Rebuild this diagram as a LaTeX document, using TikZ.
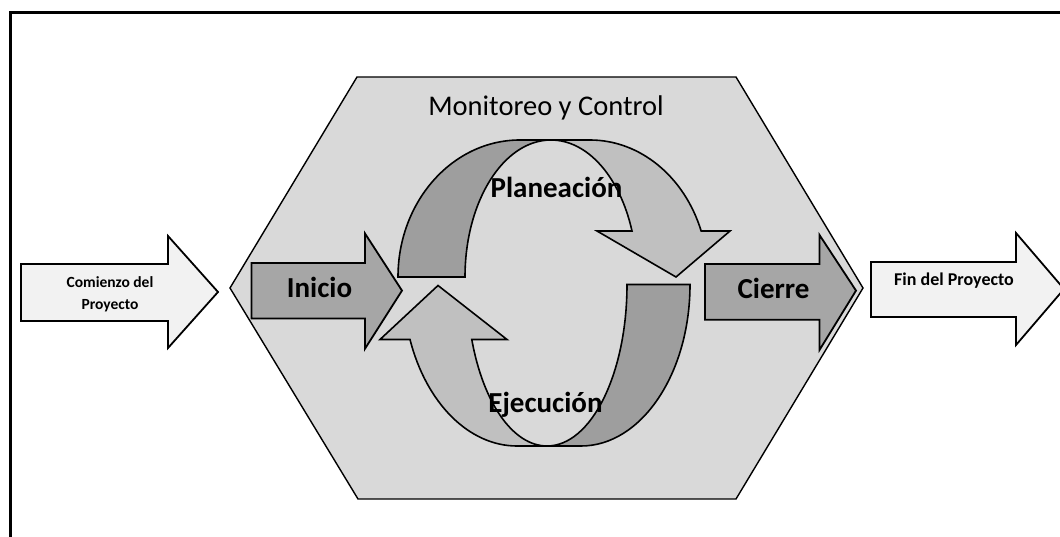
\documentclass[tikz,border=0pt]{standalone}
\usepackage{fontspec}
\setmainfont{Carlito}
\definecolor{hexfill}{HTML}{D9D9D9}
\definecolor{bandback}{HTML}{9E9E9E}
\definecolor{bandfront}{HTML}{C0C0C0}
\definecolor{phasefill}{HTML}{A6A6A6}
\definecolor{endsfill}{HTML}{F2F2F2}
\begin{document}
\begin{tikzpicture}[x=1pt,y=1pt,
  outline/.style={draw=black, line width=1.8pt, line join=miter},
  bandline/.style={draw=black, line width=1.6pt, line join=miter},
  biglabel/.style={font=\bfseries\fontsize{29}{32}\selectfont, inner sep=0pt, anchor=base},
  smalllabel/.style={font=\bfseries\fontsize{15.5}{18}\selectfont, inner sep=0pt, anchor=base}]
\clip (0,0) rectangle (1060,536);
\fill[white] (0,0) rectangle (1060,536);
% outer frame
\draw[line width=3pt] (10.5,523.5) rectangle (1090,-30);

% monitoring hexagon
\draw[fill=hexfill, line width=1.4pt] (357,459) -- (736,459) -- (863,248) -- (736,37) -- (358,37) -- (230,248) -- cycle;

% start / end arrows
\draw[outline, fill=endsfill] (21,272) -- (168,272) -- (168,300) -- (218,244) -- (168,188) -- (168,215) -- (21,215) -- cycle;
\draw[outline, fill=endsfill] (871,274) -- (1016,274) -- (1016,303) -- (1064,247) -- (1016,191) -- (1016,219) -- (871,219) -- cycle;

% planning loop: front band with arrow head, then back band
\draw[bandline, fill=bandfront] (551,396) -- (590,396)
  arc[start angle=90, end angle=19.62, x radius=118, y radius=137]
  -- (730,305) -- (676,259) -- (597,305) -- (632,305)
  arc[start angle=19.62, end angle=90, x radius=86, y radius=137] -- cycle;
\draw[bandline, fill=bandback] (398,259)
  arc[start angle=180, end angle=90, x radius=122, y radius=137]
  -- (551,396)
  arc[start angle=90, end angle=180, x radius=86, y radius=137] -- cycle;

% execution loop: back band, then front band with arrow head
\draw[bandline, fill=bandback] (690,251.5)
  arc[start angle=0, end angle=-90, x radius=109, y radius=161.5]
  -- (547,90)
  arc[start angle=-90, end angle=0, x radius=80, y radius=161.5] -- cycle;
\draw[bandline, fill=bandfront] (410,196.5)
  arc[start angle=199.91, end angle=270, x radius=113.8, y radius=161.5]
  -- (547,90)
  arc[start angle=270, end angle=199.91, x radius=80, y radius=161.5]
  -- (507,196.5) -- (438,250.5) -- (380,196.5) -- cycle;

% initiation / closing arrows
\draw[outline, fill=phasefill] (251.5,273) -- (365,273) -- (365,302.5) -- (402,245.4) -- (365,187.3) -- (365,217.4) -- (251.5,217.4) -- cycle;
\draw[outline, fill=phasefill] (705,272) -- (819.5,272) -- (819.5,301) -- (856,245.4) -- (819.5,186) -- (819.5,216.3) -- (705,216.3) -- cycle;

% labels
\node[font=\fontsize{28.5}{32}\selectfont, inner sep=0pt, anchor=base] (mon) at (546,420) {Monitoreo y Control};
\node[biglabel] (plan) at (556.5,338.3) {Planeación};
\node[biglabel] (ejec) at (545.5,123.3) {Ejecución};
\node[biglabel] (ini) at (319.5,238.6) {Inicio};
\node[biglabel] (cie) at (773.5,237.5) {Cierre};
\node[smalllabel] (comA) at (110,248.7) {Comienzo del};
\node[smalllabel] (comB) at (110,226.7) {Proyecto};
\node[smalllabel, font=\bfseries\fontsize{18}{20}\selectfont] (fin) at (954,250.3) {Fin del Proyecto};
\end{tikzpicture}
\end{document}
